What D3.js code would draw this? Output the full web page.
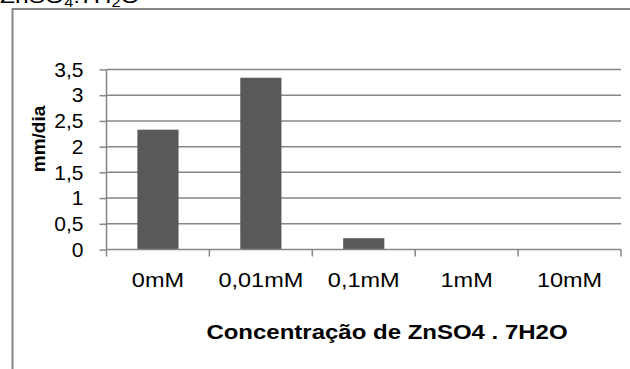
<html>
<head>
<style>
  body{margin:0;background:#fff}
  svg text{font-family:"Liberation Sans",Arial,sans-serif;fill:#000}
  .grid line{stroke:#868686;stroke-width:1.5px}
  .axis path,.axis line{stroke:#868686;stroke-width:1.5px}
  .axis text{font-size:21px}
</style>
</head>
<body>
<div id="chart"></div>
<script src="https://d3js.org/d3.v7.min.js"></script>
<script>
var categories = ['0mM', '0,01mM', '0,1mM', '1mM', '10mM'];
var values     = [2.33, 3.34, 0.22, 0, 0];
var yTicks     = [0, 0.5, 1, 1.5, 2, 2.5, 3, 3.5];

var width = 630, height = 369,
    pLeft = 106.5, pRight = 621, pTop = 69.5, pBottom = 249.5;

var svg = d3.select('#chart').append('svg')
  .attr('width', width)
  .attr('height', height);

// outer frame (cut off on right and bottom)
svg.append('rect')
  .attr('x', 12.5).attr('y', 9)
  .attr('width', 700).attr('height', 500)
  .attr('fill', 'none')
  .attr('stroke', '#868686')
  .attr('stroke-width', 2);

// cut-off chart title above the frame
var t = svg.append('text')
  .attr('transform', 'translate(0,3) scale(1.17,1)')
  .style('font-size', '21px');
t.append('tspan').text('ZnSO');
t.append('tspan').attr('dy', 4).style('font-size', '14px').text('4');
t.append('tspan').attr('dy', -4).text('.7H');
t.append('tspan').attr('dy', 4).style('font-size', '14px').text('2');
t.append('tspan').attr('dy', -4).text('O');

var x = d3.scaleBand()
  .domain(categories)
  .range([pLeft, pRight])
  .paddingInner(0.6)
  .paddingOuter(0.3);

var xc = d3.scaleBand().domain(categories).range([pLeft, pRight]);

var y = d3.scaleLinear()
  .domain([0, 3.5])
  .range([pBottom, pTop]);

// gridlines
svg.append('g').attr('class', 'grid')
  .selectAll('line')
  .data(yTicks.filter(function (d) { return d > 0; }))
  .enter().append('line')
  .attr('x1', pLeft).attr('x2', pRight)
  .attr('y1', function (d) { return y(d); })
  .attr('y2', function (d) { return y(d); });

// bars
svg.append('g').selectAll('rect')
  .data(values)
  .enter().append('rect')
  .attr('x', function (d, i) { return x(categories[i]); })
  .attr('width', x.bandwidth())
  .attr('y', function (d) { return y(d); })
  .attr('height', function (d) { return y(0) - y(d); })
  .attr('fill', '#595959');

// y axis
var yAxis = svg.append('g').attr('class', 'axis')
  .attr('transform', 'translate(' + pLeft + ',0)')
  .call(d3.axisLeft(y).tickValues(yTicks).tickSize(7).tickPadding(16)
    .tickFormat(function (d) { return String(d).replace('.', ','); }));
yAxis.select('.domain').attr('d', 'M0,' + pTop + 'V' + pBottom);

// x axis
var xAxis = svg.append('g').attr('class', 'axis')
  .attr('transform', 'translate(0,' + pBottom + ')')
  .call(d3.axisBottom(xc).tickSize(0).tickPadding(23));
xAxis.select('.domain').attr('d', 'M' + pLeft + ',0H' + pRight);
xAxis.selectAll('.tick text').attr('transform', 'scale(1.12,1)');
xAxis.selectAll('.xt')
  .data(d3.range(categories.length + 1))
  .enter().append('line')
  .attr('class', 'xt')
  .attr('x1', function (d) { return pLeft + d * xc.step(); })
  .attr('x2', function (d) { return pLeft + d * xc.step(); })
  .attr('y1', 0).attr('y2', 7);

// axis titles
svg.append('text')
  .attr('transform', 'translate(387,339) scale(1.2,1)')
  .attr('text-anchor', 'middle')
  .style('font-size', '20px')
  .style('font-weight', 'bold')
  .text('Concentração de ZnSO4 . 7H2O');

svg.append('text')
  .attr('transform', 'translate(45,139) rotate(-90)')
  .attr('text-anchor', 'middle')
  .style('font-size', '19px')
  .style('font-weight', 'bold')
  .text('mm/dia');
</script>
</body>
</html>
